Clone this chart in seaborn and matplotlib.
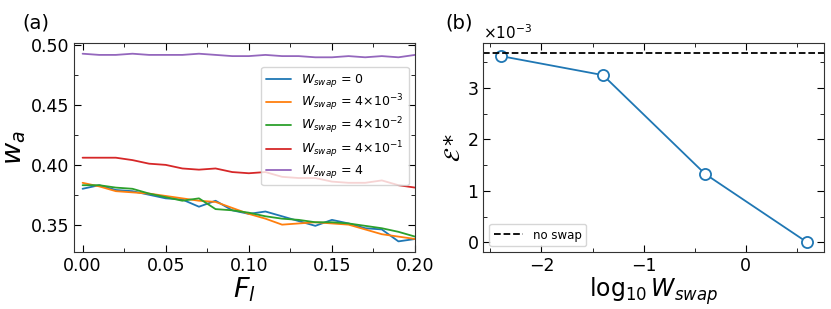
import numpy as np
import pandas as pd
import seaborn as sns
import matplotlib
matplotlib.use("Agg")
import matplotlib.pyplot as plt
from matplotlib.ticker import MultipleLocator, ScalarFormatter

# panel (a) data
F_l = [0.00, 0.01, 0.02, 0.03, 0.04, 0.05, 0.06, 0.07, 0.08, 0.09, 0.10,
       0.11, 0.12, 0.13, 0.14, 0.15, 0.16, 0.17, 0.18, 0.19, 0.20]
w_a_0 = [0.380, 0.383, 0.379, 0.378, 0.375, 0.372, 0.371, 0.365, 0.370, 0.362, 0.359,
         0.361, 0.357, 0.353, 0.349, 0.354, 0.351, 0.347, 0.346, 0.336, 0.338]
w_a_4e3 = [0.385, 0.382, 0.378, 0.377, 0.376, 0.374, 0.372, 0.370, 0.369, 0.364, 0.359,
           0.355, 0.350, 0.351, 0.352, 0.351, 0.350, 0.346, 0.342, 0.340, 0.338]
w_a_4e2 = [0.383, 0.383, 0.381, 0.380, 0.376, 0.373, 0.370, 0.372, 0.363, 0.362, 0.360,
           0.357, 0.355, 0.354, 0.352, 0.352, 0.351, 0.349, 0.347, 0.344, 0.340]
w_a_4e1 = [0.406, 0.406, 0.406, 0.404, 0.401, 0.400, 0.397, 0.396, 0.397, 0.394, 0.393,
           0.394, 0.390, 0.389, 0.389, 0.386, 0.385, 0.385, 0.387, 0.383, 0.381]
w_a_4 = [0.493, 0.492, 0.492, 0.493, 0.492, 0.492, 0.492, 0.493, 0.492, 0.491, 0.491,
         0.492, 0.491, 0.491, 0.490, 0.490, 0.491, 0.490, 0.491, 0.490, 0.492]
labels_a = [r'$W_{swap}$ = 0', r'$W_{swap}$ = 4×10$^{-3}$',
            r'$W_{swap}$ = 4×10$^{-2}$', r'$W_{swap}$ = 4×10$^{-1}$',
            r'$W_{swap}$ = 4']

# panel (b) data
W_swap = [0.004, 0.04, 0.4, 4.0]
E_star = [3.62e-3, 3.25e-3, 1.33e-3, 0.0]
E_noswap = 3.68e-3

sns.set_style("ticks")
plt.rcParams['font.family'] = ['DejaVu Sans']
plt.rcParams['text.color'] = 'black'
plt.rcParams['axes.labelcolor'] = 'black'
plt.rcParams['xtick.color'] = 'black'
plt.rcParams['ytick.color'] = 'black'
plt.rcParams['axes.edgecolor'] = '0.2'

fig, (ax1, ax2) = plt.subplots(1, 2, figsize=(8.31, 3.09), dpi=100)
fig.subplots_adjust(left=0.089, right=0.992, top=0.861, bottom=0.184, wspace=0.2)

# (a)
rows = []
for lab, ys in zip(labels_a, [w_a_0, w_a_4e3, w_a_4e2, w_a_4e1, w_a_4]):
    for x, y in zip(F_l, ys):
        rows.append({'F_l': x, 'w_a': y, 'series': lab})
df = pd.DataFrame(rows)
sns.lineplot(data=df, x='F_l', y='w_a', hue='series', palette='tab10',
             linewidth=1.3, ax=ax1)
ax1.set_xlim(-0.0052, 0.2)
ax1.set_ylim(0.327, 0.502)
ax1.xaxis.set_major_locator(MultipleLocator(0.05))
ax1.xaxis.set_minor_locator(MultipleLocator(0.025))
ax1.yaxis.set_major_locator(MultipleLocator(0.05))
ax1.yaxis.set_minor_locator(MultipleLocator(0.025))
ax1.xaxis.set_major_formatter(plt.FormatStrFormatter('%.2f'))
ax1.yaxis.set_major_formatter(plt.FormatStrFormatter('%.2f'))
ax1.set_xlabel(r'$F_l$', fontsize=19.5, labelpad=0)
ax1.set_ylabel(r'$w_a$', fontsize=19.5, labelpad=2)
ax1.legend(loc='upper right', bbox_to_anchor=(1.0, 0.915), fontsize=9,
           frameon=True, handlelength=2.0, handletextpad=0.8,
           labelspacing=0.25, borderpad=0.4)
ax1.text(-0.15, 1.07, '(a)', transform=ax1.transAxes, fontsize=14)

# (b)
logW = np.log10(W_swap)
sns.lineplot(x=logW, y=E_star, marker='o', markersize=8, markerfacecolor='white',
             markeredgecolor='#1f77b4', markeredgewidth=1.3, color='#1f77b4',
             linewidth=1.3, ax=ax2)
ax2.axhline(E_noswap, color='black', linestyle='--', linewidth=1.3, label='no swap')
ax2.set_xlim(-2.57, 0.77)
ax2.set_ylim(-0.19e-3, 3.875e-3)
ax2.xaxis.set_major_locator(MultipleLocator(1))
ax2.xaxis.set_minor_locator(MultipleLocator(0.5))
ax2.yaxis.set_major_locator(MultipleLocator(1e-3))
ax2.yaxis.set_minor_locator(MultipleLocator(0.5e-3))
fmt = ScalarFormatter(useMathText=True)
fmt.set_powerlimits((-2, 2))
ax2.yaxis.set_major_formatter(fmt)
ax2.yaxis.get_offset_text().set_fontsize(11)
ax2.set_xlabel(r'$\log_{10} W_{swap}$', fontsize=17, labelpad=0)
ax2.set_ylabel(r'$\mathcal{E}*$', fontsize=16, labelpad=2)
ax2.legend(loc='lower left', fontsize=8.5, handlelength=2.5)
ax2.text(-0.11, 1.07, '(b)', transform=ax2.transAxes, fontsize=14)

for ax in (ax1, ax2):
    ax.tick_params(which='both', direction='in', top=True, right=True, labelsize=12.5)
    ax.tick_params(which='major', length=5)
    ax.tick_params(which='minor', length=3)

fig.savefig('out.png', dpi=100)
